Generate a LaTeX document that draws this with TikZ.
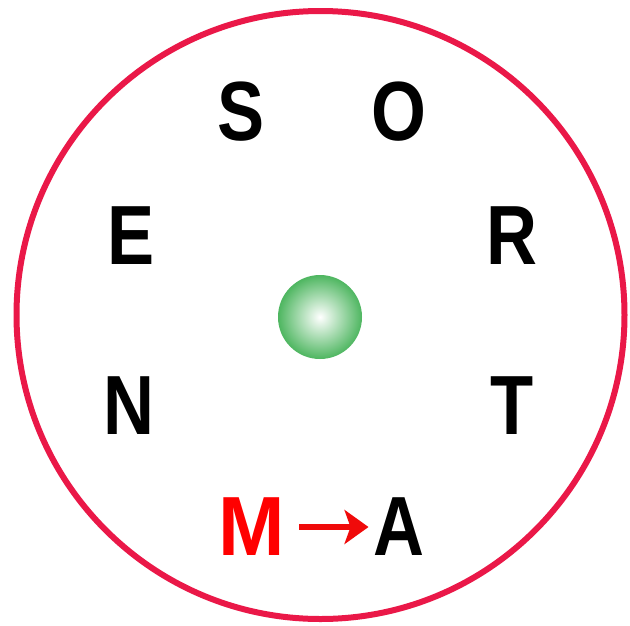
\documentclass[tikz,border=0pt]{standalone}
\usepackage{fontspec}
\setmainfont{Liberation Sans}
\usetikzlibrary{arrows.meta}
\definecolor{ringred}{RGB}{234,24,72}
\definecolor{ballgreen}{RGB}{78,182,96}
\definecolor{arrred}{RGB}{240,10,10}
\tikzset{
  letter/.style={inner sep=0pt, outer sep=0pt, font=\fontsize{84}{84}\selectfont\bfseries, text=black, xscale=0.84},
  redletter/.style={letter, text=red, xscale=1.13},
  ring/.style={draw=ringred, line width=6pt},
  redarrow/.style={draw=arrred, line width=6pt, -{Stealth[length=24pt,width=34pt,inset=6pt]}, shorten <=14pt, shorten >=5pt}
}
\begin{document}
\begin{tikzpicture}[x=1pt,y=-1pt]
\useasboundingbox (0,0) rectangle (630,625);
\fill[white] (0,0) rectangle (630,625);
\draw[ring] (320.5,315) circle (304);
\shade[inner color=white, outer color=ballgreen] (320,317) circle (42);
\node[letter] (S) at (241,112) {S};
\node[letter] (O) at (399,112) {O};
\node[letter] (E) at (131,236) {E};
\node[letter] (R) at (512,236) {R};
\node[letter] (N) at (129,406) {N};
\node[letter] (T) at (512,406) {T};
\node[redletter] (M) at (252,527) {M};
\node[letter] (A) at (399,527) {A};
\draw[redarrow] (M) -- (A);
\end{tikzpicture}
\end{document}
